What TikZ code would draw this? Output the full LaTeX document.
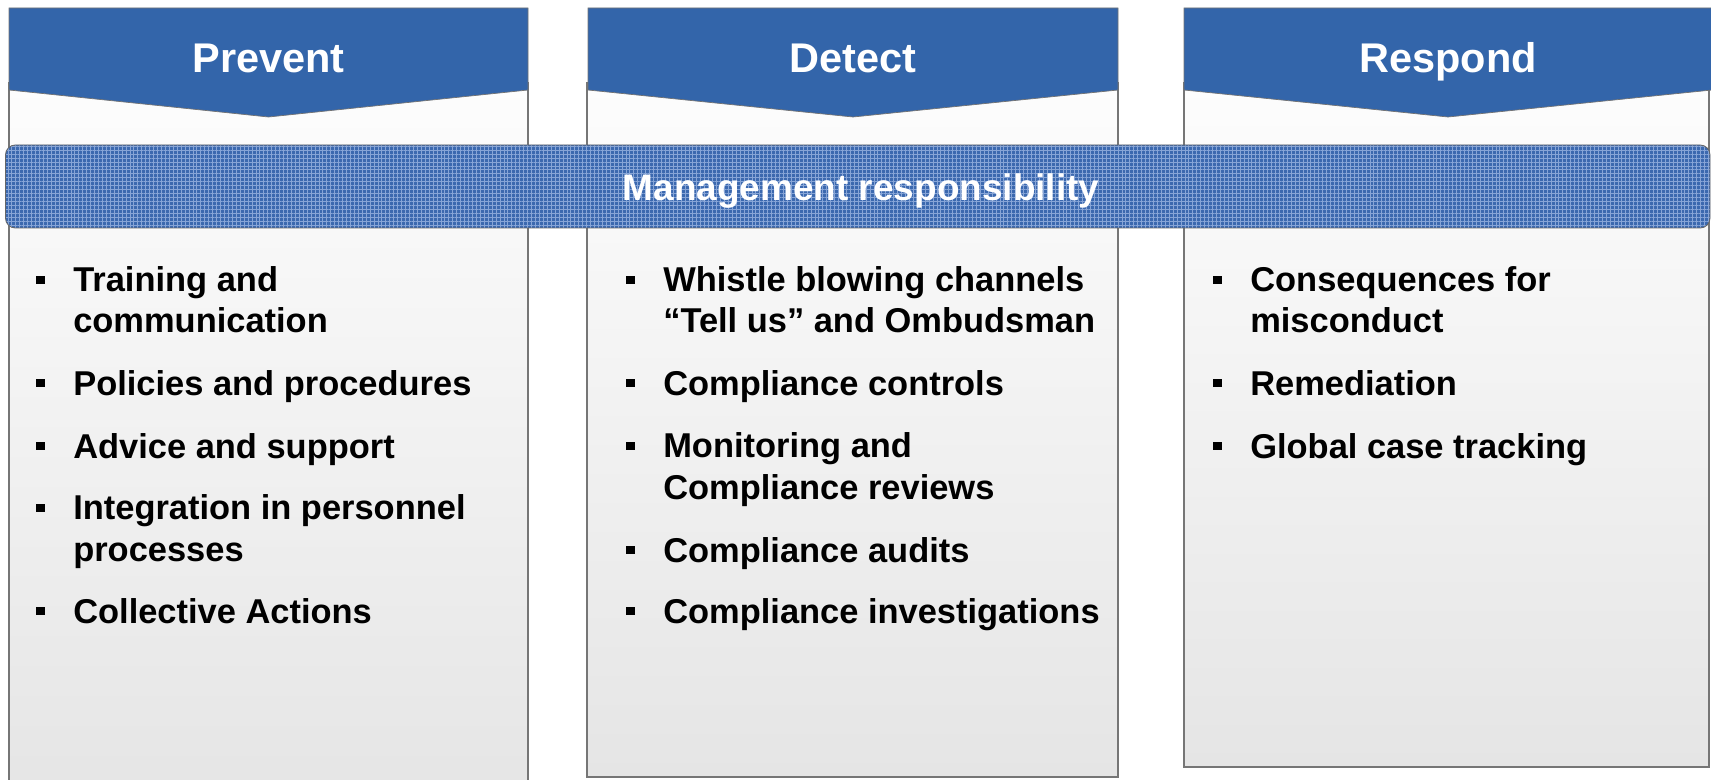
\documentclass[tikz,border=0pt]{standalone}
\usepackage{fontspec}
\setmainfont{Liberation Sans}
\usepackage{xcolor}
\usetikzlibrary{positioning,calc,patterns.meta}

\definecolor{hdrblue}{RGB}{51,101,170}
\definecolor{bandblue}{RGB}{60,105,175}
\definecolor{gridblue}{RGB}{135,165,215}
\definecolor{boxline}{RGB}{118,118,118}
\definecolor{boxtop}{RGB}{253,253,253}
\definecolor{boxbot}{RGB}{229,229,229}

\tikzset{
    colbox/.style={draw=boxline, line width=1.1pt, top color=boxtop, bottom color=boxbot},
    hdr/.style={fill=hdrblue, draw=black!55, line width=0.5pt},
    hdrtext/.style={text=white, font=\fontsize{29.5}{34}\selectfont\bfseries, inner sep=0pt, anchor=base},
    bandtext/.style={text=white, font=\fontsize{26.3}{30}\selectfont\bfseries, inner sep=0pt, anchor=base},
    item/.style={font=\fontsize{24.5}{29.2}\selectfont\bfseries, align=left, inner sep=0pt, anchor=base west},
    sq/.style={fill=black, minimum size=6pt, inner sep=0pt}
}

\begin{document}
\begin{tikzpicture}[x=0.25mm, y=-0.25mm]
    \useasboundingbox (0,0) rectangle (1711,780);
    \clip (0,0) rectangle (1711,780);

    % Column boxes
    \path[colbox] (9,83) rectangle (528,800);
    \path[colbox] (587,83) rectangle (1118,777);
    \path[colbox] (1184,83) rectangle (1709,767);

    % Headers
    \path[hdr] (9,8) -- (528,8) -- (528,90) -- (268.5,117) -- (9,90) -- cycle;
    \node[hdrtext] (hprevent) at (268.5,73) {Prevent};

    \path[hdr] (588,8) -- (1118,8) -- (1118,90) -- (853,117) -- (588,90) -- cycle;
    \node[hdrtext] (hdetect) at (853,73) {Detect};

    \path[hdr] (1184,8) -- (1712,8) -- (1712,90) -- (1448,117) -- (1184,90) -- cycle;
    \node[hdrtext] (hrespond) at (1448,73) {Respond};

    % Management band
    \path[fill=bandblue, rounded corners=7pt] (5.5,145) rectangle (1710,228);
    \path[pattern={Lines[distance=2.8pt, line width=0.5pt]}, pattern color=gridblue, rounded corners=7pt] (5.5,145) rectangle (1710,228);
    \path[pattern={Lines[distance=2.8pt, angle=90, line width=0.5pt]}, pattern color=gridblue, rounded corners=7pt] (5.5,145) rectangle (1710,228);
    \draw[black!60, line width=0.6pt, rounded corners=7pt] (5.5,145) rectangle (1710,228);
    \node[bandtext] (mgmt) at (861,201) {Management responsibility};

    % Prevent items (two-line items sit on their last line)
    \node[item] (p1) at (73,333) {Training and\\communication};
    \node[item] (p2) at (73,395) {Policies and procedures};
    \node[item] (p3) at (73,458) {Advice and support};
    \node[item] (p4) at (73,561) {Integration in personnel\\processes};
    \node[item] (p5) at (73,623) {Collective Actions};

    % Detect items
    \node[item] (d1) at (663,333) {Whistle blowing channels\\``Tell us'' and Ombudsman};
    \node[item] (d2) at (663,395) {Compliance controls};
    \node[item] (d3) at (663,499) {Monitoring and\\Compliance reviews};
    \node[item] (d4) at (663,562) {Compliance audits};
    \node[item] (d5) at (663,623) {Compliance investigations};

    % Respond items
    \node[item] (r1) at (1250,333) {Consequences for\\misconduct};
    \node[item] (r2) at (1250,395) {Remediation};
    \node[item] (r3) at (1250,458) {Global case tracking};

    % Bullets
    \foreach \n in {p2,p3,p5,d2,d4,d5,r2,r3}
        \node[sq] (b\n) at ($(\n.base west)+(-32.5,-12)$) {};
    \foreach \n in {p1,p4,d1,d3,r1}
        \node[sq] (b\n) at ($(\n.base west)+(-32.5,-53)$) {};
\end{tikzpicture}
\end{document}
